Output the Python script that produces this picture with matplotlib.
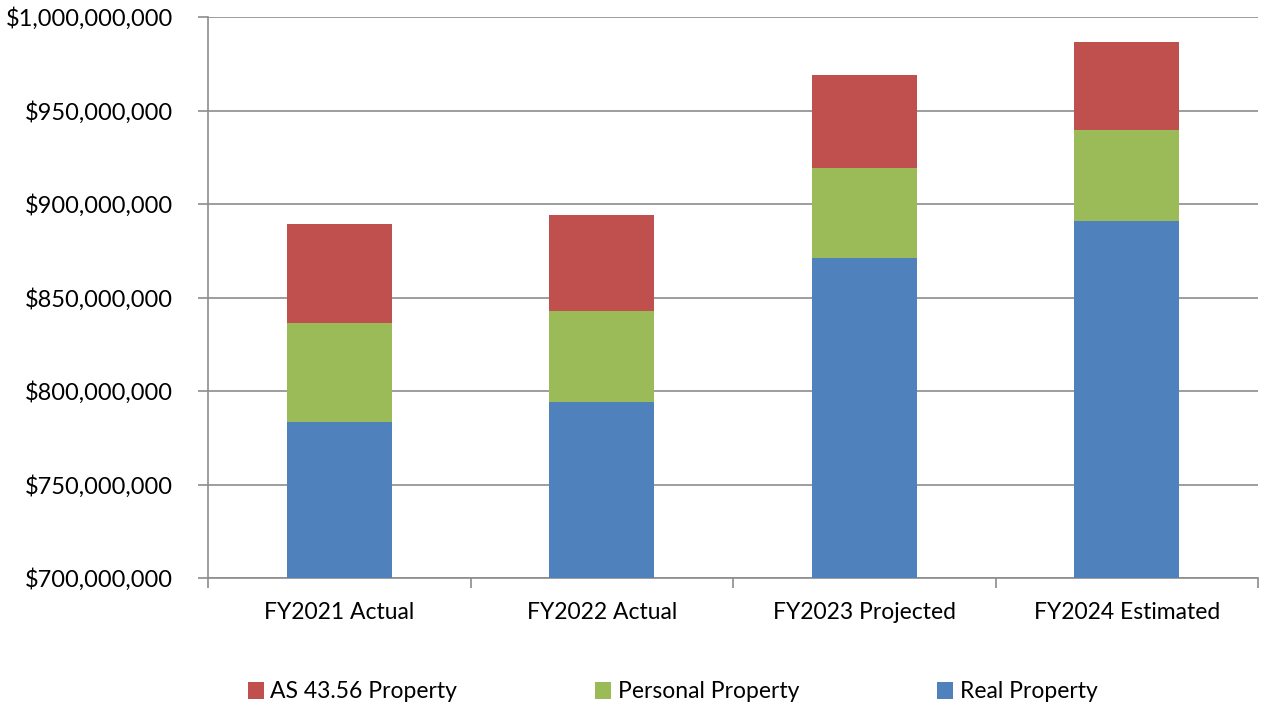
import matplotlib
matplotlib.use("Agg")
import matplotlib.pyplot as plt
from matplotlib.ticker import FuncFormatter, FixedLocator, NullFormatter
import numpy as np

plt.rcParams['font.family'] = ['Lato', 'DejaVu Sans']

categories = ["FY2021 Actual", "FY2022 Actual", "FY2023 Projected", "FY2024 Estimated"]
real_property = [783.5e6, 794.2e6, 871.2e6, 890.9e6]
personal_property = [53.0e6, 48.7e6, 48.2e6, 48.7e6]
as4356_property = [53.0e6, 51.3e6, 49.7e6, 47.0e6]

colors = {"real": "#4F81BD", "personal": "#9BBB59", "as": "#C0504D"}

fig = plt.figure(figsize=(12.64, 7.06), dpi=100)
ax = fig.add_axes([208 / 1264, 1 - 578 / 706, 1050 / 1264, 561 / 706])

x = np.arange(len(categories))
w = 0.4
real = np.array(real_property)
pers = np.array(personal_property)
asp = np.array(as4356_property)

b_real = ax.bar(x, real, w, color=colors["real"], label="Real Property", zorder=3)
b_pers = ax.bar(x, pers, w, bottom=real, color=colors["personal"], label="Personal Property", zorder=3)
b_as = ax.bar(x, asp, w, bottom=real + pers, color=colors["as"], label="AS 43.56 Property", zorder=3)

ax.set_xlim(-0.5, len(categories) - 0.5)
ax.set_ylim(700e6, 1000e6)
ax.set_yticks(np.arange(700e6, 1000e6 + 1, 50e6))
ax.yaxis.set_major_formatter(FuncFormatter(lambda v, p: f"${v:,.0f}"))
ax.grid(axis="y", color="#8C8C8C", linewidth=1.2, zorder=0)

ax.set_xticks(x)
ax.set_xticklabels(categories)
ax.xaxis.set_minor_locator(FixedLocator(np.arange(-0.5, len(categories), 1.0)))
ax.xaxis.set_minor_formatter(NullFormatter())
ax.tick_params(axis="x", which="major", length=0, pad=17, labelsize=16.5, colors="black")
ax.tick_params(axis="x", which="minor", length=7, width=1.2, color="#8C8C8C")
ax.tick_params(axis="y", length=7, width=1.2, color="#8C8C8C", labelsize=17, pad=18,
               labelcolor="black")

for s in ["top", "right"]:
    ax.spines[s].set_visible(False)
for s in ["left", "bottom"]:
    ax.spines[s].set_color("#8C8C8C")
    ax.spines[s].set_linewidth(1.2)

handles = [b_as, b_pers, b_real]
labels = ["AS 43.56 Property", "Personal Property", "Real Property"]
fig.legend(handles, labels, loc="center", bbox_to_anchor=(0.532, 1 - 692 / 706), ncol=3,
           frameon=False, fontsize=16.5, handlelength=0.7, handleheight=0.7,
           handletextpad=0.3, columnspacing=6.0)

fig.savefig("out.png", dpi=100)
